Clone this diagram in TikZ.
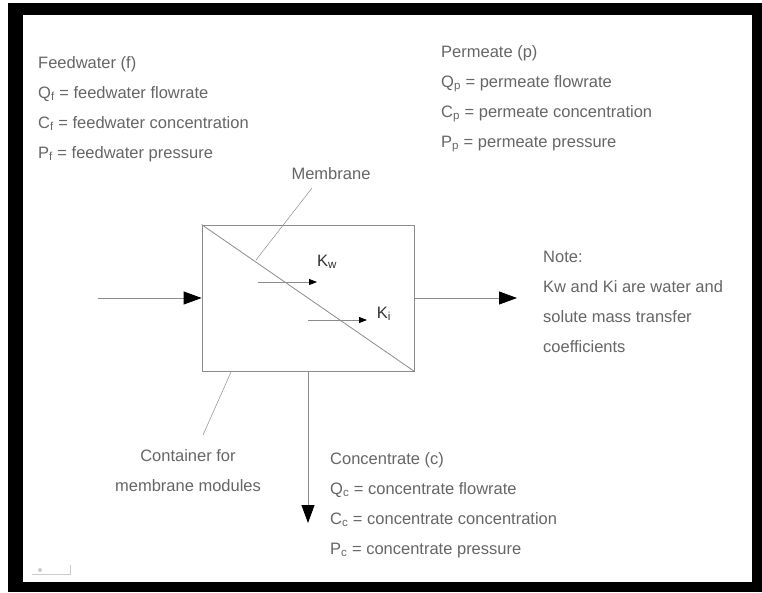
\documentclass[tikz,border=0pt]{standalone}
\usepackage{fontspec}
\setmainfont{Liberation Sans}
\usetikzlibrary{arrows.meta,positioning}

\begin{document}
\begin{tikzpicture}[
  x=1pt, y=-1pt,
  font=\fontsize{16.5}{30}\selectfont,
  txt/.style={text=black!60, inner sep=0pt, anchor=north west, align=left},
  wire/.style={draw=black!45, line width=0.8pt},
  flow/.style={wire, -{Triangle[length=18pt, width=13pt, color=black]}},
  kflow/.style={wire, -{Triangle[length=8pt, width=6pt, color=black]}},
  klbl/.style={text=black!80, inner sep=0pt},
]
% slide frame
\fill[white] (0,0) rectangle (762,592);
\fill[black] (8,3) rectangle (762,592);
\fill[white] (23,15) rectangle (752,582);
% membrane module
\node[wire, minimum width=212pt, minimum height=146pt, inner sep=0pt] (module) at (308,298) {};
\draw[wire] (module.north west) -- (module.south east);
% streams
\coordinate (feedin) at (98,298);
\coordinate (permout) at (517,298);
\coordinate (concout) at (308,523);
\draw[flow] (feedin) -- (module.west);
\draw[flow] (module.east) -- (permout);
\draw[flow] (module.south) -- (concout);
% transfer through membrane
\coordinate (kwa) at (258,282);
\coordinate (kwb) at (317,282);
\coordinate (kia) at (308,320);
\coordinate (kib) at (367,320);
\draw[kflow] (kwa) -- (kwb);
\draw[kflow] (kia) -- (kib);
\node[klbl] (kw) at (327,262) {K\textsubscript{w}};
\node[klbl] (ki) at (384,314) {K\textsubscript{i}};
% stream labels
\node[txt] (feed) at (38,56)
  {Feedwater (f)\\Q\textsubscript{f} = feedwater flowrate\\
   C\textsubscript{f} = feedwater concentration\\P\textsubscript{f} = feedwater pressure};
\node[txt] (perm) at (441,45)
  {Permeate (p)\\Q\textsubscript{p} = permeate flowrate\\
   C\textsubscript{p} = permeate concentration\\P\textsubscript{p} = permeate pressure};
\node[txt] (conc) at (330,452)
  {Concentrate (c)\\Q\textsubscript{c} = concentrate flowrate\\
   C\textsubscript{c} = concentrate concentration\\P\textsubscript{c} = concentrate pressure};
\node[txt] (note) at (543,251)
  {Note:\\Kw and Ki are water and\\solute mass transfer\\coefficients};
% callouts
\node[txt, anchor=north] (memlbl) at (331,167) {Membrane};
\node[txt, anchor=north, align=center] (boxlbl) at (188,449) {Container for\\membrane modules};
\coordinate (memtip) at (256,260);
\coordinate (boxtip) at (231,372);
\draw[wire, line width=0.5pt] (312,188) -- (memtip);
\draw[wire, line width=0.5pt] (203,435) -- (boxtip);
% slide number mark
\draw[black!20, line width=0.8pt] (32,574) -- (70,574) -- (70,565);
\fill[black!20] (40,570) circle (2);
\end{tikzpicture}
\end{document}
